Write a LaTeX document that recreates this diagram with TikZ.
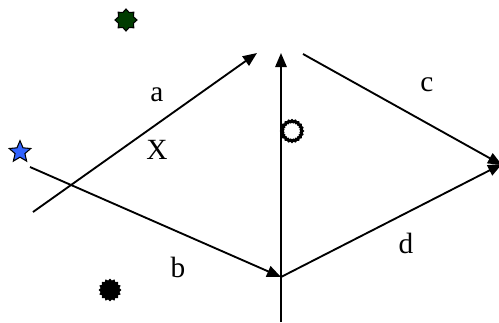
\documentclass[tikz,border=0pt]{standalone}
\usepackage{fontspec}
\setmainfont{Liberation Serif}
\usetikzlibrary{arrows.meta,shapes.geometric}
\begin{document}
\begin{tikzpicture}[x=0.75pt,y=-0.75pt,
  conn/.style={line width=1.4pt,-{Triangle[length=10.5pt,width=8.5pt]}},
  lbl/.style={font=\fontsize{22}{24}\selectfont,inner sep=0pt},
  shp/.style={star,draw=black,line width=0.8pt,inner sep=0pt}]
\useasboundingbox (0,0) rectangle (499,322);
% shapes
\node[shp,star points=8,star point ratio=1.35,minimum size=16.5pt,fill={rgb,255:red,0;green,60;blue,0}] (g) at (126,20) {};
\node[shp,star points=5,star point ratio=2.2,minimum size=17pt,fill={rgb,255:red,50;green,100;blue,255}] (s) at (20,152) {};
\node[shp,star points=16,star point ratio=1.2,minimum size=16pt,fill=black] (k) at (110,290) {};
\node[star,star points=20,star point ratio=1.12,minimum size=15.5pt,draw=black,line width=2.2pt,fill=white,inner sep=0pt] (o) at (292,131) {};
% coordinates
\coordinate (a1) at (33,212);
\coordinate (a2) at (257,53);
\coordinate (b1) at (30,167);
\coordinate (b2) at (281,277);
\coordinate (v1) at (281,322);
\coordinate (v2) at (281,53);
\coordinate (c1) at (303,54);
\coordinate (c2) at (502,165);
\coordinate (d2) at (502,164);
% connectors
\draw[conn] (a1) -- (a2);
\draw[conn] (b1) -- (b2);
\draw[conn] (v1) -- (v2);
\draw[conn] (c1) -- (c2);
\draw[conn] (b2) -- (d2);
% labels
\node[lbl] (la) at (157,95) {a};
\node[lbl] (lx) at (157,150) {X};
\node[lbl] (lb) at (178,267) {b};
\node[lbl] (lc) at (427,85) {c};
\node[lbl] (ld) at (406,243) {d};
\end{tikzpicture}
\end{document}
